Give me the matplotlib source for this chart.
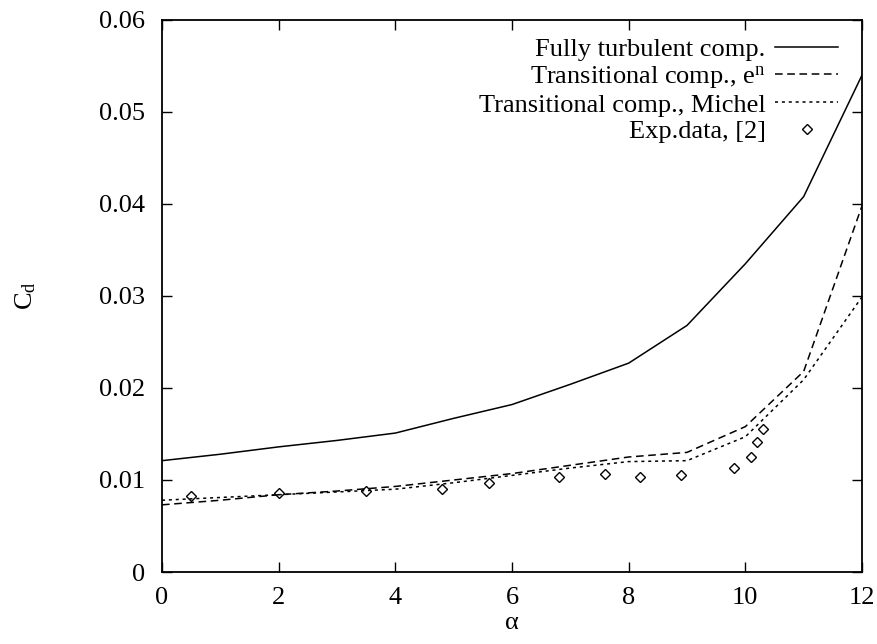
import numpy as np
import matplotlib
matplotlib.use("Agg")
import matplotlib.pyplot as plt

plt.rcParams['font.family'] = ['Liberation Serif', 'DejaVu Serif']
plt.rcParams['mathtext.fontset'] = 'custom'
plt.rcParams['mathtext.rm'] = 'Liberation Serif'
plt.rcParams['mathtext.it'] = 'Liberation Serif'
plt.rcParams['font.size'] = 19

# angle of attack
alpha = [0, 1, 2, 3, 4, 5, 6, 7, 8, 9, 10, 11, 12]
cd_turb = [0.0121, 0.0128, 0.0136, 0.0143, 0.0151, 0.0167, 0.0182, 0.0204, 0.0227, 0.0268, 0.0335, 0.0408, 0.0540]
cd_en = [0.0073, 0.0078, 0.0084, 0.0088, 0.0093, 0.0100, 0.0107, 0.0116, 0.0125, 0.0130, 0.0158, 0.0218, 0.0398]
cd_michel = [0.0078, 0.0081, 0.0084, 0.0087, 0.0090, 0.0097, 0.0105, 0.0113, 0.0120, 0.0121, 0.0147, 0.0209, 0.0299]

exp_alpha = [0.5, 2.0, 3.5, 4.8, 5.6, 6.8, 7.6, 8.2, 8.9, 9.8, 10.1, 10.2, 10.3]
exp_cd = [0.0083, 0.0086, 0.0088, 0.0090, 0.0097, 0.0103, 0.0106, 0.0103, 0.0105, 0.0113, 0.0125, 0.0141, 0.0155]

fig = plt.figure(figsize=(8.77, 6.44), dpi=100)
ax = fig.add_axes([0.1847, 0.1118, 0.7982, 0.8572])

ax.plot(alpha, cd_turb, '-', color='black', lw=1.1, label='Fully turbulent comp.')
ax.plot(alpha, cd_en, color='black', lw=1.1, dashes=(5, 3), label=r'Transitional comp., e$^{\mathrm{n}}$')
ax.plot(alpha, cd_michel, color='black', lw=1.1, dashes=(2, 2.5), label='Transitional comp., Michel')
ax.plot(exp_alpha, exp_cd, 'D', ms=5, mfc='none', mec='black', mew=1.0, linestyle='none', label='Exp.data, [2]')

ax.set_xlim(0, 12)
ax.set_ylim(0, 0.06)
ax.set_xticks([0, 2, 4, 6, 8, 10, 12])
ax.set_yticks([0, 0.01, 0.02, 0.03, 0.04, 0.05, 0.06])
ax.set_yticklabels(['0', '0.01', '0.02', '0.03', '0.04', '0.05', '0.06'])
ax.tick_params(direction='in', length=7, width=1, top=True, right=True)
ax.tick_params(axis='y', pad=12)
ax.tick_params(axis='x', pad=11)
for s in ax.spines.values():
    s.set_linewidth(1.3)

ax.set_xlabel(r'$\alpha$', labelpad=2)
ax.set_ylabel(r'$\mathrm{C_d}$', labelpad=44)

leg = ax.legend(loc='upper right', bbox_to_anchor=(0.966, 0.968), frameon=False,
                markerfirst=False, borderpad=0, borderaxespad=0, labelspacing=0.1,
                handlelength=2.4, handletextpad=0.35)

fig.savefig('out.png', dpi=100)
